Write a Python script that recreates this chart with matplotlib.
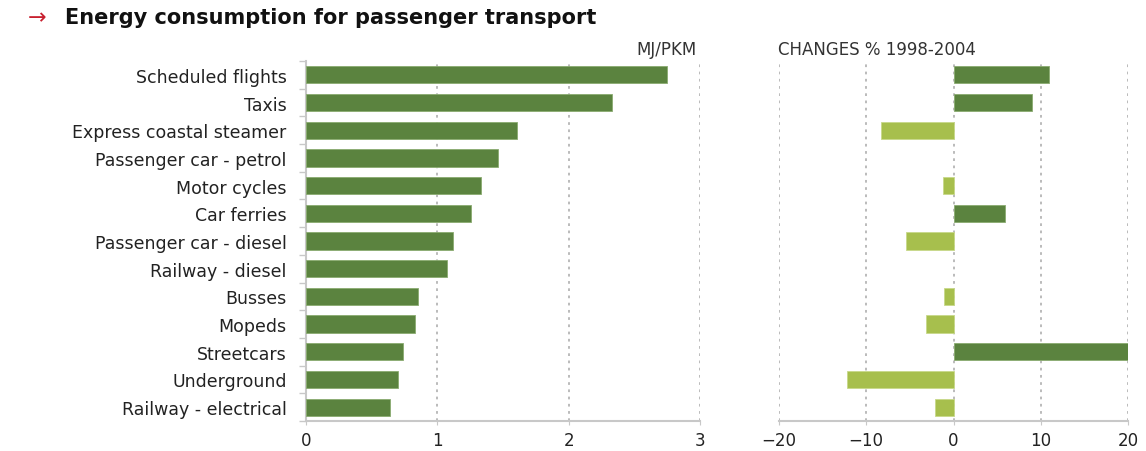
import numpy as np
import matplotlib.pyplot as plt

# data
categories = [
    "Scheduled flights", "Taxis", "Express coastal steamer",
    "Passenger car - petrol", "Motor cycles", "Car ferries",
    "Passenger car - diesel", "Railway - diesel", "Busses", "Mopeds",
    "Streetcars", "Underground", "Railway - electrical",
]
mj_per_pkm = [2.75, 2.33, 1.61, 1.46, 1.33, 1.26, 1.12, 1.07, 0.85, 0.83, 0.74, 0.70, 0.64]
change_pct = [11.0, 9.0, -8.3, 0.0, -1.2, 5.9, -5.4, 0.0, -1.1, -3.1, 20.0, -12.2, -2.1]

left_ticks = [0, 1, 2, 3]
right_ticks = [-20, -10, 0, 10, 20]

DARK = "#5b833f"
LIGHT = "#a7bf4d"
GRID = "#b5b5b5"
SPINE = "#c8c8c8"

plt.rcParams['font.family'] = ['DejaVu Sans']

fig = plt.figure(figsize=(11.46, 4.52), dpi=100)
ax1 = fig.add_axes([306 / 1146, 1 - 422 / 452, 394 / 1146, 360 / 452])
ax2 = fig.add_axes([779 / 1146, 1 - 422 / 452, 349 / 1146, 360 / 452])

y = np.arange(len(categories))

# left panel: MJ/PKM
ax1.barh(y, mj_per_pkm, height=0.62, color=DARK, edgecolor="#8aab70", linewidth=0.6, zorder=3)
ax1.set_xlim(0, 3)
ax1.set_ylim(len(categories) - 0.5, -0.5)
ax1.set_yticks(y)
ax1.set_yticklabels(categories, fontsize=12.5, color="#222222")
ax1.set_yticks(np.arange(-0.5, len(categories), 1), minor=True)
ax1.tick_params(axis='y', which='major', length=0, pad=14)
ax1.tick_params(axis='y', which='minor', length=5, color=SPINE, width=1)
ax1.set_xticks(left_ticks)
ax1.set_xticklabels([str(t) for t in left_ticks], fontsize=12, color="#222222")
ax1.tick_params(axis='x', length=3, color=SPINE, pad=4)
for t in left_ticks[1:]:
    ax1.axvline(t, color=GRID, linestyle=(0, (1.5, 2.5)), linewidth=1.3, zorder=1)
for s in ['top', 'right']:
    ax1.spines[s].set_visible(False)
ax1.spines['left'].set_color(SPINE)
ax1.spines['bottom'].set_color(SPINE)
ax1.spines['left'].set_linewidth(1.5)
ax1.spines['bottom'].set_linewidth(1.5)

# right panel: changes %
colors = [DARK if v > 0 else LIGHT for v in change_pct]
edges = ["#8aab70" if v > 0 else ("#c8d98a" if v < 0 else "none") for v in change_pct]
ax2.barh(y, change_pct, height=0.62, color=colors, edgecolor=edges, linewidth=0.6, zorder=3)
ax2.set_xlim(-20, 20)
ax2.set_ylim(len(categories) - 0.5, -0.5)
ax2.set_yticks([])
ax2.set_xticks(right_ticks)
ax2.set_xticklabels([str(t).replace("-", "\u2212") for t in right_ticks], fontsize=12, color="#222222")
ax2.tick_params(axis='x', length=3, color=SPINE, pad=4)
for t in right_ticks:
    ax2.axvline(t, color=GRID, linestyle=(0, (1.5, 2.5)), linewidth=1.3, zorder=1)
for s in ['top', 'right', 'left']:
    ax2.spines[s].set_visible(False)
ax2.spines['bottom'].set_color(SPINE)
ax2.spines['bottom'].set_linewidth(1.5)

# headings
fig.text(28 / 1146, 1 - 18 / 452, "\u2192", color="#c8202f", fontsize=16, va='center', ha='left')
fig.text(65 / 1146, 1 - 18 / 452, "Energy consumption for passenger transport",
         fontsize=15, fontweight='bold', color="#111111", va='center', ha='left')
fig.text(697 / 1146, 1 - 50 / 452, "MJ/PKM", fontsize=12, color="#333333", va='center', ha='right')
fig.text(778 / 1146, 1 - 50 / 452, "CHANGES % 1998-2004", fontsize=12, color="#333333", va='center', ha='left')

fig.savefig("out.png", dpi=100)
